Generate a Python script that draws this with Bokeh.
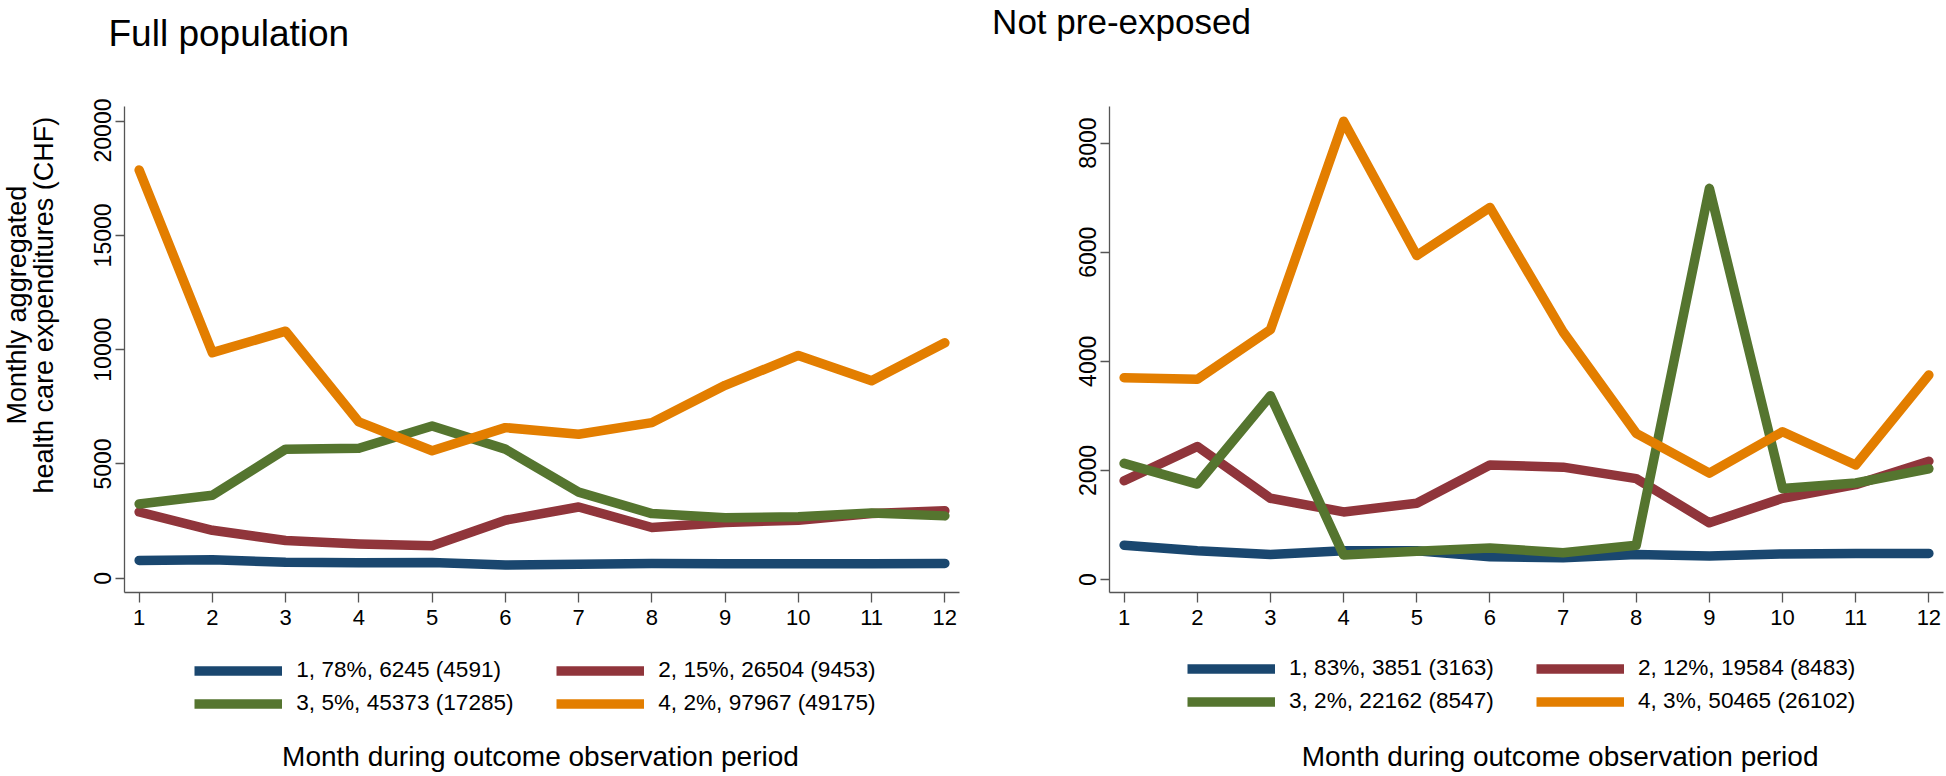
import math
from bokeh.plotting import figure
from bokeh.models import Range1d, FixedTicker, Label, Legend, LegendItem
from bokeh.layouts import row, column
from bokeh.embed import file_html
from bokeh.resources import INLINE

# ---------------- data ----------------
months = list(range(1, 13))

full_title = "Full population"
full_c1 = [780, 810, 700, 680, 690, 580, 610, 650, 640, 640, 640, 650]
full_c2 = [2900, 2100, 1650, 1500, 1420, 2540, 3120, 2220, 2440, 2540, 2830, 2950]
full_c3 = [3250, 3630, 5650, 5690, 6660, 5650, 3770, 2830, 2650, 2690, 2860, 2730]
full_c4 = [17860, 9870, 10810, 6840, 5580, 6590, 6300, 6810, 8440, 9750, 8640, 10300]
full_legend = ["1, 78%, 6245 (4591)", "2, 15%, 26504 (9453)",
               "3, 5%, 45373 (17285)", "4, 2%, 97967 (49175)"]
full_yticks = [0, 5000, 10000, 15000, 20000]

notpre_title = "Not pre-exposed"
notpre_c1 = [630, 530, 460, 530, 530, 420, 400, 460, 430, 470, 480, 480]
notpre_c2 = [1810, 2440, 1490, 1240, 1400, 2100, 2060, 1850, 1040, 1490, 1740, 2170]
notpre_c3 = [2130, 1750, 3370, 450, 520, 580, 490, 630, 7170, 1670, 1770, 2030]
notpre_c4 = [3700, 3670, 4580, 8400, 5940, 6820, 4540, 2680, 1950, 2710, 2100, 3750]
notpre_legend = ["1, 83%, 3851 (3163)", "2, 12%, 19584 (8483)",
                 "3, 2%, 22162 (8547)", "4, 3%, 50465 (26102)"]
notpre_yticks = [0, 2000, 4000, 6000, 8000]

y_title_lines = ["Monthly aggregated", "health care expenditures (CHF)"]
x_title = "Month during outcome observation period"

colors = ["#1a476f", "#90353b", "#55752f", "#e37e00"]

FONT = "Liberation Sans"
AXIS_COL = "#555555"
LW = 9.5

TOTAL_W = 1946
TOP_H = 98
MID_H = 542
BOT_H = 136


def blank(width, height):
    """A figure whose frame is its whole canvas, in pixel data units."""
    f = figure(width=width, height=height, x_range=Range1d(0, width),
               y_range=Range1d(0, height), output_backend="svg", title=None,
               toolbar_location=None, x_axis_location=None, y_axis_location=None,
               min_border=0, min_border_left=0, min_border_right=0,
               min_border_top=0, min_border_bottom=0)
    f.outline_line_color = None
    f.grid.visible = False
    f.background_fill_color = "white"
    f.border_fill_color = "white"
    return f


def make_panel(series, yticks, yr, width, mbl, mbr, mbt, frame_h):
    p = figure(width=width, height=MID_H, x_range=Range1d(0.8, 12.2), y_range=Range1d(*yr),
               output_backend="svg", toolbar_location=None, title=None,
               min_border_left=mbl, min_border_right=mbr, min_border_top=mbt,
               min_border_bottom=MID_H - mbt - frame_h)
    p.outline_line_color = None
    p.grid.visible = False
    p.background_fill_color = "white"
    p.border_fill_color = "white"

    for ax in (p.xaxis[0], p.yaxis[0]):
        ax.axis_line_color = AXIS_COL
        ax.axis_line_width = 1.3
        ax.major_tick_line_color = AXIS_COL
        ax.major_tick_line_width = 1.3
        ax.major_tick_in = 0
        ax.minor_tick_line_color = None
        ax.major_label_text_font = FONT
        ax.major_label_text_color = "black"
    p.xaxis.ticker = FixedTicker(ticks=months)
    p.xaxis.major_tick_out = 10
    p.xaxis.major_label_standoff = 7
    p.xaxis.major_label_text_font_size = "22px"
    p.yaxis.ticker = FixedTicker(ticks=yticks)
    p.yaxis.major_tick_out = 9
    p.yaxis.major_label_standoff = 4
    p.yaxis.major_label_orientation = "vertical"
    p.yaxis.major_label_text_font_size = "23px"

    for ys, c in zip(series, colors):
        p.line(months, ys, line_color=c, line_width=LW,
               line_cap="round", line_join="round")
    return p


def mid_from_baseline(baseline, size):
    # vertical middle of a Liberation Sans text box whose baseline is given
    return baseline - (0.905 - 0.212) / 2 * size


# ---------- top strip: panel titles ----------
top = blank(TOTAL_W, TOP_H)
top.add_layout(Label(x=108, y=TOP_H - mid_from_baseline(45.7, 37), text=full_title,
                     text_font=FONT, text_font_size="37px", text_color="black",
                     text_align="left", text_baseline="middle"))
top.add_layout(Label(x=991.6, y=TOP_H - mid_from_baseline(33, 35), text=notpre_title,
                     text_font=FONT, text_font_size="35px", text_color="black",
                     text_align="left", text_baseline="middle"))

# ---------- middle: y title + two plots ----------
YLAB_W = 78
ylab = blank(YLAB_W, MID_H)
for txt, xc in zip(y_title_lines, (16, 43)):
    ylab.add_layout(Label(x=xc, y=MID_H - (319.5 - TOP_H), text=txt, angle=math.pi / 2,
                          text_font=FONT, text_font_size="27px", text_color="black",
                          text_align="center", text_baseline="middle"))

p1 = make_panel([full_c1, full_c2, full_c3, full_c4], full_yticks, (-622, 20639),
                width=1008 - YLAB_W, mbl=124 - YLAB_W, mbr=49, mbt=8, frame_h=489)
p2 = make_panel([notpre_c1, notpre_c2, notpre_c3, notpre_c4], notpre_yticks, (-237, 8670),
                width=TOTAL_W - 1008, mbl=101, mbr=3, mbt=6, frame_h=488)

# ---------- bottom strip: legends + x titles ----------
bot = blank(TOTAL_W, BOT_H)
PAGE_BOTTOM = TOP_H + MID_H + BOT_H


def add_legend(fig, labels, loc, label_w):
    items = []
    for lab, c in zip(labels, colors):
        # legend key renderers, kept outside the visible frame
        r = fig.line(x=[-60, -50], y=[-60, -50], line_color=c, line_width=LW,
                     line_cap="butt", line_join="miter")
        items.append(LegendItem(label=lab, renderers=[r]))
    leg = Legend(items=items, location=loc, orientation="horizontal", ncols=2,
                 spacing=0, padding=0, margin=0, glyph_width=88, glyph_height=33,
                 label_height=33, label_width=label_w, label_standoff=14,
                 label_text_font=FONT, label_text_font_size="22.6px",
                 label_text_color="black", border_line_color=None,
                 background_fill_alpha=0)
    fig.add_layout(leg)


add_legend(bot, full_legend, (194.3, PAGE_BOTTOM - 719.5), 260)
add_legend(bot, notpre_legend, (1187, PAGE_BOTTOM - 717.8), 247)

for xc, base in ((540, 766), (1559.6, 766)):
    bot.add_layout(Label(x=xc, y=PAGE_BOTTOM - mid_from_baseline(base, 28), text=x_title,
                         text_font=FONT, text_font_size="28px", text_color="black",
                         text_align="center", text_baseline="middle"))

layout = column(top, row(ylab, p1, p2), bot)
open("out.html", "w").write(file_html(layout, INLINE))
